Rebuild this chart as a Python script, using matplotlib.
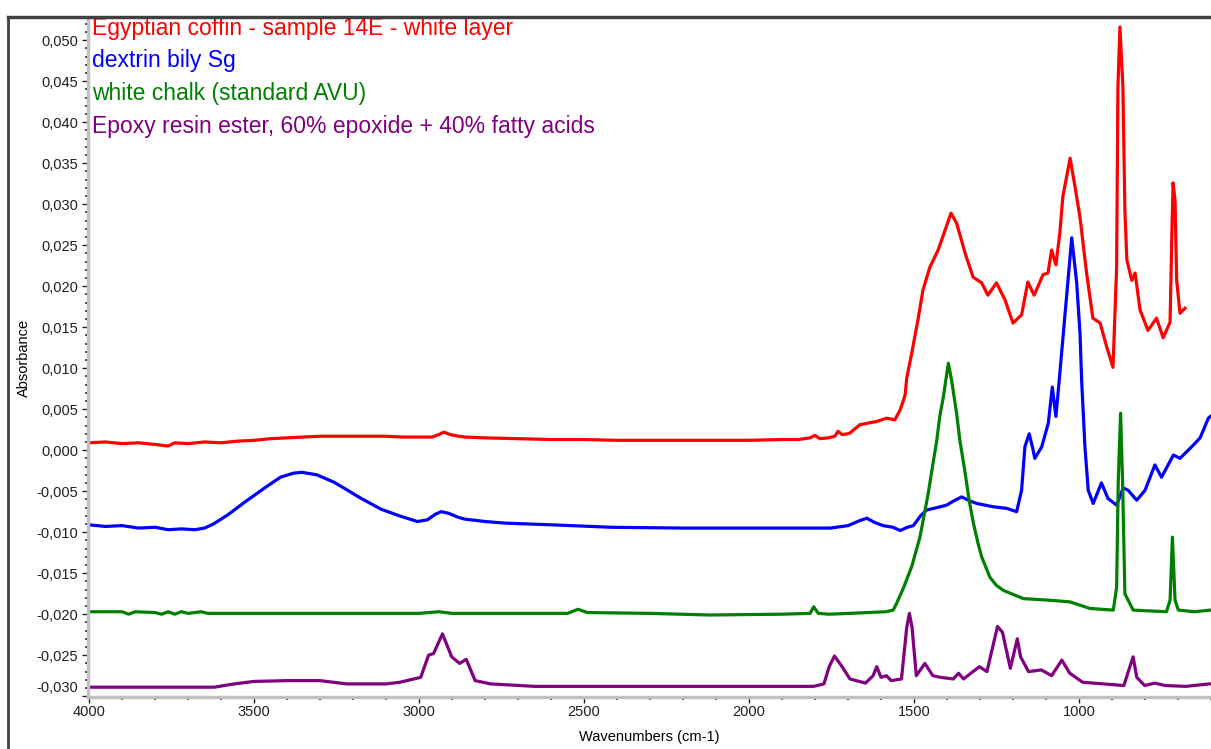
import numpy as np
import matplotlib.pyplot as plt
import matplotlib.transforms as mtransforms
from matplotlib.lines import Line2D
from matplotlib.ticker import MultipleLocator, FuncFormatter

plt.rcParams['font.family'] = ['Liberation Sans', 'DejaVu Sans']

# spectra (wavenumber cm-1, absorbance)
red_wn = [4000, 3950, 3900, 3850, 3800, 3760, 3740, 3700, 3650, 3600, 3550, 3500, 3450, 3400,
          3350, 3300, 3200, 3100, 3050, 3000, 2960, 2940, 2925, 2905, 2880, 2860, 2800, 2700,
          2600, 2500, 2400, 2300, 2200, 2100, 2000, 1900, 1850, 1815, 1800, 1785, 1760, 1740,
          1730, 1718, 1700, 1694, 1664, 1640, 1613, 1583, 1558, 1542, 1527, 1522, 1507, 1488,
          1473, 1452, 1427, 1406, 1388, 1371, 1345, 1321, 1295, 1276, 1250, 1224, 1200, 1174,
          1155, 1136, 1109, 1094, 1083, 1070, 1058, 1049, 1027, 1012, 997, 977, 958, 936, 916,
          897, 886, 882, 876, 867, 861, 855, 840, 830, 815, 791, 765, 745, 724, 719, 715, 709,
          704, 694, 679]
red_ab = [0.0009, 0.0010, 0.0008, 0.0009, 0.0007, 0.0005, 0.0009, 0.0008, 0.0010, 0.0009, 0.0011,
          0.0012, 0.0014, 0.0015, 0.0016, 0.0017, 0.0017, 0.0017, 0.0016, 0.0016, 0.0016, 0.0019,
          0.0022, 0.0019, 0.0017, 0.0016, 0.0015, 0.0014, 0.0013, 0.0013, 0.0012, 0.0012, 0.0012,
          0.0012, 0.0012, 0.0013, 0.0013, 0.0015, 0.0018, 0.0014, 0.0015, 0.0017, 0.0023, 0.0019,
          0.0020, 0.0021, 0.0031, 0.0033, 0.0035, 0.0039, 0.0037, 0.0049, 0.0067, 0.0088, 0.0118,
          0.0159, 0.0195, 0.0223, 0.0244, 0.0268, 0.0289, 0.0277, 0.0240, 0.0211, 0.0204, 0.0189,
          0.0204, 0.0183, 0.0155, 0.0165, 0.0205, 0.0189, 0.0214, 0.0216, 0.0244, 0.0226, 0.0265,
          0.0309, 0.0356, 0.0321, 0.0284, 0.0216, 0.0161, 0.0155, 0.0126, 0.0101, 0.0223, 0.0443,
          0.0516, 0.0443, 0.0293, 0.0232, 0.0207, 0.0216, 0.0171, 0.0146, 0.0161, 0.0137, 0.0156,
          0.0256, 0.0326, 0.0305, 0.0207, 0.0167, 0.0173]

blue_wn = [4000, 3950, 3900, 3850, 3800, 3760, 3720, 3680, 3650, 3623, 3580, 3527, 3464, 3420,
           3380, 3355, 3310, 3258, 3220, 3179, 3115, 3060, 3005, 2975, 2950, 2933, 2910, 2880,
           2862, 2800, 2736, 2600, 2418, 2200, 2000, 1850, 1753, 1700, 1665, 1643, 1620, 1594,
           1564, 1542, 1520, 1502, 1480, 1462, 1430, 1401, 1380, 1356, 1330, 1310, 1260, 1219,
           1189, 1174, 1164, 1151, 1140, 1134, 1113, 1093, 1081, 1070, 1060, 1034, 1022, 1007,
           997, 992, 982, 972, 957, 932, 912, 886, 866, 851, 825, 800, 770, 750, 714, 694, 654,
           633, 608, 602]
blue_ab = [-0.0091, -0.0093, -0.0092, -0.0095, -0.0094, -0.0097, -0.0096, -0.0097, -0.0095,
           -0.0090, -0.0079, -0.0063, -0.0045, -0.0033, -0.0028, -0.0027, -0.0030, -0.0039,
           -0.0048, -0.0058, -0.0072, -0.0080, -0.0087, -0.0085, -0.0078, -0.0075, -0.0077,
           -0.0082, -0.0084, -0.0087, -0.0089, -0.0091, -0.0094, -0.0095, -0.0095, -0.0095,
           -0.0095, -0.0092, -0.0086, -0.0083, -0.0088, -0.0092, -0.0094, -0.0098, -0.0094,
           -0.0092, -0.0080, -0.0073, -0.0070, -0.0067, -0.0062, -0.0057, -0.0062, -0.0065,
           -0.0069, -0.0071, -0.0075, -0.0049, 0.0004, 0.0020, 0.0002, -0.0010, 0.0004, 0.0033,
           0.0077, 0.0041, 0.0085, 0.0204, 0.0259, 0.0204, 0.0143, 0.0085, 0.0004, -0.0049,
           -0.0065, -0.0040, -0.0059, -0.0067, -0.0046, -0.0049, -0.0061, -0.0049, -0.0018,
           -0.0033, -0.0006, -0.0010, 0.0006, 0.0015, 0.0039, 0.0041]

green_wn = [4000, 3900, 3880, 3860, 3800, 3780, 3760, 3740, 3720, 3700, 3660, 3640, 3600, 3000,
            2940, 2900, 2550, 2518, 2490, 2300, 2118, 1900, 1815, 1804, 1790, 1758, 1694, 1585,
            1563, 1553, 1532, 1507, 1482, 1457, 1444, 1431, 1422, 1411, 1396, 1386, 1371, 1361,
            1345, 1333, 1320, 1307, 1295, 1270, 1250, 1229, 1169, 1088, 1027, 967, 896, 886, 881,
            874, 868, 861, 851, 836, 735, 724, 717, 709, 699, 650, 602]
green_ab = [-0.0197, -0.0197, -0.0200, -0.0197, -0.0198, -0.0200, -0.0197, -0.0200, -0.0197,
            -0.0199, -0.0197, -0.0199, -0.0199, -0.0199, -0.0197, -0.0199, -0.0199, -0.0194,
            -0.0198, -0.0199, -0.0201, -0.0200, -0.0199, -0.0191, -0.0199, -0.0200, -0.0199,
            -0.0197, -0.0195, -0.0187, -0.0168, -0.0142, -0.0106, -0.0053, -0.0020, 0.0012,
            0.0041, 0.0065, 0.0106, 0.0085, 0.0045, 0.0012, -0.0028, -0.0061, -0.0089, -0.0112,
            -0.0130, -0.0155, -0.0165, -0.0171, -0.0181, -0.0183, -0.0185, -0.0193, -0.0195,
            -0.0167, -0.0037, 0.0045, -0.0037, -0.0175, -0.0183, -0.0195, -0.0197, -0.0183,
            -0.0106, -0.0183, -0.0195, -0.0197, -0.0195]

purple_wn = [4000, 3620, 3560, 3500, 3400, 3300, 3219, 3100, 3058, 2995, 2971, 2956, 2929, 2901,
             2877, 2857, 2830, 2783, 2650, 1804, 1773, 1757, 1741, 1718, 1694, 1647, 1624, 1613,
             1600, 1584, 1569, 1538, 1522, 1514, 1506, 1493, 1467, 1443, 1420, 1381, 1365, 1350,
             1302, 1279, 1247, 1232, 1208, 1187, 1177, 1153, 1114, 1083, 1052, 1028, 989, 864,
             849, 836, 825, 801, 770, 739, 676, 605]
purple_ab = [-0.0289, -0.0289, -0.0285, -0.0282, -0.0281, -0.0281, -0.0285, -0.0285, -0.0283,
             -0.0277, -0.0250, -0.0248, -0.0224, -0.0252, -0.0260, -0.0255, -0.0281, -0.0285,
             -0.0288, -0.0288, -0.0285, -0.0264, -0.0251, -0.0264, -0.0279, -0.0284, -0.0275,
             -0.0264, -0.0277, -0.0275, -0.0281, -0.0279, -0.0216, -0.0199, -0.0216, -0.0275,
             -0.0260, -0.0275, -0.0277, -0.0279, -0.0272, -0.0279, -0.0264, -0.0270, -0.0215,
             -0.0222, -0.0266, -0.0230, -0.0252, -0.0270, -0.0268, -0.0275, -0.0256, -0.0272,
             -0.0283, -0.0287, -0.0268, -0.0252, -0.0277, -0.0287, -0.0284, -0.0287, -0.0288,
             -0.0285]

names = ['Egyptian coffin - sample 14E - white layer', 'dextrin bily Sg',
         'white chalk (standard AVU)', 'Epoxy resin ester, 60% epoxide + 40% fatty acids']
colors = ['#ff0000', '#0000ff', '#008000', '#800080']

fig = plt.figure(figsize=(12.11, 7.49), dpi=100)
ax = fig.add_axes([0.0727, 0.0694, 0.9273, 0.9066])

series = [(red_wn, red_ab), (blue_wn, blue_ab), (green_wn, green_ab), (purple_wn, purple_ab)]
for (wn, ab), c in zip(series, colors):
    ax.plot(wn, ab, color=c, linewidth=2.3, solid_joinstyle='round')

ax.set_xlim(4003, 600)
ax.set_ylim(-0.0301, 0.0527)

ax.xaxis.set_major_locator(MultipleLocator(500))
ax.xaxis.set_minor_locator(MultipleLocator(100))
ax.yaxis.set_major_locator(MultipleLocator(0.005))
ax.yaxis.set_minor_locator(MultipleLocator(0.001))
ax.yaxis.set_major_formatter(FuncFormatter(lambda v, p: ('%.3f' % v).replace('.', ',').replace('-0,000', '0,000')))
ax.xaxis.set_major_formatter(FuncFormatter(lambda v, p: '%d' % v))

ax.tick_params(axis='both', which='major', direction='out', length=4, width=1, color='#202020',
               labelsize=10.5, labelcolor='#202020', pad=3)
ax.tick_params(axis='both', which='minor', direction='out', length=2, width=1.2, color='#202020')
ax.tick_params(axis='x', which='major', pad=2)

for s in ['top', 'right']:
    ax.spines[s].set_visible(False)
for s in ['left', 'bottom']:
    ax.spines[s].set_color('#c0c0c0')
    ax.spines[s].set_linewidth(2.5)

# bottom tick label sits a bit higher in the original
fig.canvas.draw()
for lab in ax.get_yticklabels():
    if lab.get_text() == '-0,030':
        lab.set_transform(lab.get_transform() + mtransforms.ScaledTranslation(0, 0.1, fig.dpi_scale_trans))

ax.set_xlabel('Wavenumbers (cm-1)', fontsize=10.5, labelpad=8)
ax.set_ylabel('Absorbance', fontsize=10.5, labelpad=4)

for i, (name, c) in enumerate(zip(names, colors)):
    ax.text(0.0035, 0.9850 - i * 0.0481, name, transform=ax.transAxes, color=c,
            fontsize=16.5, ha='left', va='center')

# window frame lines
fig.add_artist(Line2D([0.0066, 0.0066], [0, 0.9773], color='#404040', linewidth=2))
fig.add_artist(Line2D([0.0066, 1.0], [0.9773, 0.9773], color='#404040', linewidth=2.5))

fig.savefig('out.png', dpi=100)
